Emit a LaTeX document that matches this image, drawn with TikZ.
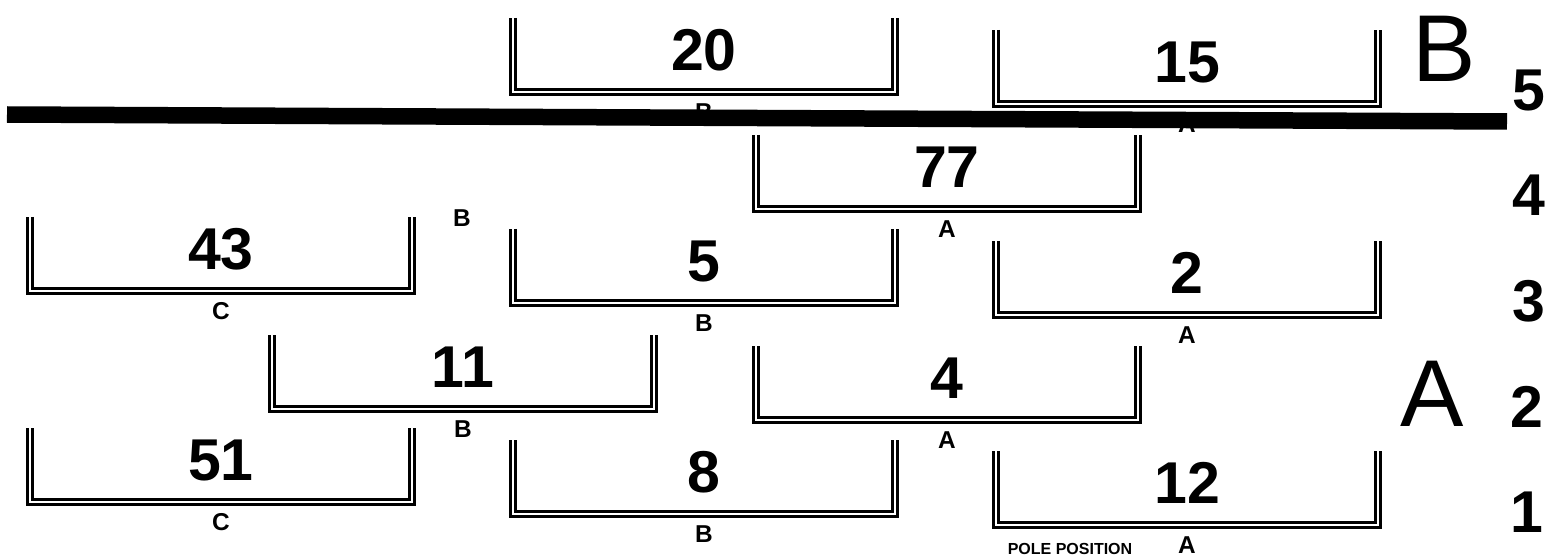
\documentclass[tikz,border=0pt]{standalone}
\usepackage{fontspec}
\setmainfont{Liberation Sans}
\usepackage{tikz}
\tikzset{
  trough/.style={draw,line width=1.4pt,double,double distance=1.1pt,line join=miter},
  carnum/.style={font=\fontsize{29.5}{30}\selectfont\bfseries,inner sep=0pt},
  teamlbl/.style={font=\fontsize{12.2}{13}\selectfont\bfseries,inner sep=0pt},
  rownum/.style={font=\fontsize{29.5}{30}\selectfont\bfseries,inner sep=0pt},
  zone/.style={font=\fontsize{47.5}{50}\selectfont,inner sep=0pt},
  divider/.style={line width=8.25pt},
}
% #1 name, #2 left, #3 top, #4 car number, #5 team
\newcommand{\gridslot}[5]{%
  \draw[trough] (#2+3.8,#3) -- (#2+3.8,#3+74.2) -- (#2+386.2,#3+74.2) -- (#2+386.2,#3);
  \node[carnum] (#1) at (#2+195,#3+32) {#4};
  \node[teamlbl] (#1team) at (#2+195,#3+94) {#5};
}

\begin{document}
\begin{tikzpicture}[x=0.5pt,y=-0.5pt]
  \useasboundingbox (0,0) rectangle (1549,556);
  % row 5
  \gridslot{s20}{509}{18}{20}{B}
  \gridslot{s15}{992}{30}{15}{A}
  % row 4
  \gridslot{s77}{752}{135}{77}{A}
  \node[teamlbl] (r4b) at (462,218.5) {B};
  % row 3
  \gridslot{s43}{26}{217}{43}{C}
  \gridslot{s5}{509}{229}{5}{B}
  \gridslot{s2}{992}{241}{2}{A}
  % row 2
  \gridslot{s11}{268}{335}{11}{B}
  \gridslot{s4}{752}{346}{4}{A}
  % row 1
  \gridslot{s51}{26}{428}{51}{C}
  \gridslot{s8}{509}{440}{8}{B}
  \gridslot{s12}{992}{451}{12}{A}
  \node[font=\fontsize{8}{9}\selectfont\bfseries,inner sep=0pt] (pole) at (1070,548.5) {POLE POSITION};
  % zones and row numbers
  \node[zone] (zoneB) at (1444,49) {B};
  \node[zone] (zoneA) at (1432,394) {A};
  \node[rownum] (row5) at (1529,90) {5};
  \node[rownum] (row4) at (1529,195.5) {4};
  \node[rownum] (row3) at (1529,301) {3};
  \node[rownum] (row2) at (1527,407) {2};
  \node[rownum] (row1) at (1527,512) {1};
  % divider
  \coordinate (divL) at (7,114.5);
  \coordinate (divR) at (1507,121.5);
  \draw[divider] (divL) -- (divR);
\end{tikzpicture}
\end{document}
